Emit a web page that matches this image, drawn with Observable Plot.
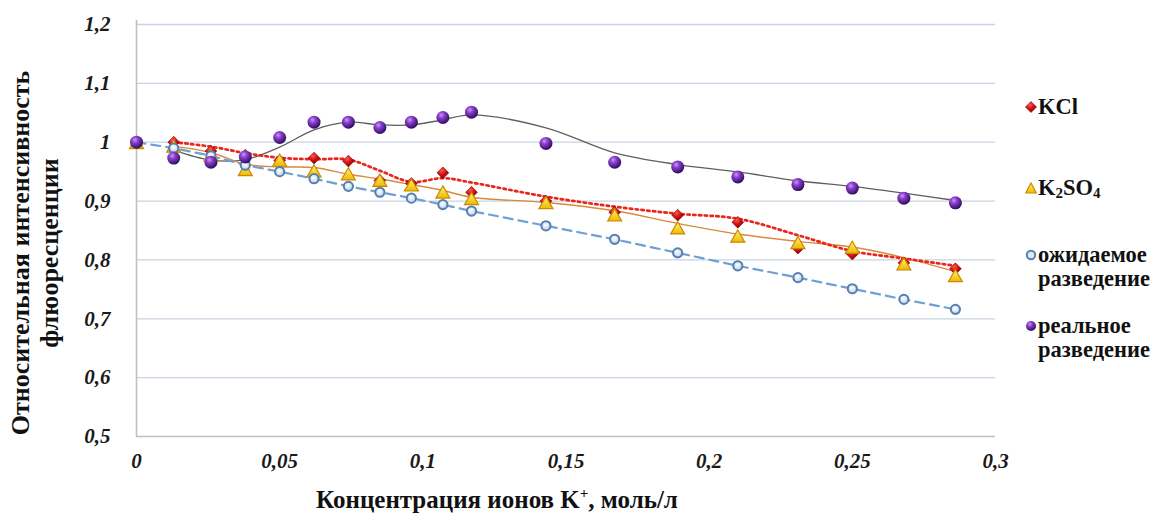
<!DOCTYPE html>
<html>
<head>
<meta charset="utf-8">
<script src="https://cdn.jsdelivr.net/npm/d3@7"></script>
<script src="https://cdn.jsdelivr.net/npm/@observablehq/plot@0.6"></script>
<style>
  body { margin: 0; background: #fff; }
  #wrap { position: relative; width: 1167px; height: 521px; font-family: "Liberation Serif", "Times New Roman", serif; color: #111; overflow: hidden; }
  #wrap svg.chart { position: absolute; left: 0; top: 0; }
  .ytitle { position: absolute; left: -214px; top: 223px; width: 500px; height: 60px; line-height: 29px; text-align: center; font-weight: bold; font-size: 26px; transform: rotate(-90deg); transform-origin: 250px 30px; white-space: nowrap; }
  .xtitle { position: absolute; left: 197px; top: 485px; width: 600px; line-height: 30px; text-align: center; font-weight: bold; font-size: 25px; white-space: nowrap; }
  .xtitle sup { font-size: 15px; vertical-align: 10px; line-height: 0; }
  .leg { position: absolute; font-weight: bold; font-size: 22.5px; line-height: 24px; white-space: nowrap; }
  .leg sub { font-size: 15px; vertical-align: -3px; line-height: 0; }
  .mk { position: absolute; }
</style>
</head>
<body>
<div id="wrap"></div>
<script>
// Concentration of K+ ions, mol/l
const conc = [0, 0.013, 0.026, 0.038, 0.05, 0.062, 0.074, 0.085, 0.096, 0.107, 0.117, 0.143, 0.167, 0.189, 0.21, 0.231, 0.25, 0.268, 0.286];
// Relative fluorescence intensity per series
const kcl      = [1.0, 1.0, 0.985, 0.978, 0.969, 0.973, 0.968, 0.935, 0.93, 0.948, 0.915, 0.9, 0.881, 0.876, 0.864, 0.82, 0.81, 0.795, 0.785];
const k2so4    = [0.996, 0.99, 0.975, 0.95, 0.966, 0.948, 0.943, 0.932, 0.924, 0.912, 0.901, 0.894, 0.873, 0.851, 0.837, 0.826, 0.818, 0.79, 0.77];
const expected = [1.0, 0.99, 0.977, 0.961, 0.95, 0.938, 0.925, 0.915, 0.905, 0.894, 0.883, 0.858, 0.835, 0.812, 0.79, 0.77, 0.751, 0.733, 0.716];
const real     = [1.0, 0.973, 0.966, 0.975, 1.008, 1.034, 1.034, 1.025, 1.034, 1.042, 1.051, 0.998, 0.966, 0.958, 0.941, 0.928, 0.922, 0.905, 0.897];

const seriesNames = ["KCl", "K2SO4", "ожидаемое разведение", "реальное разведение"];
const xTicks = [0, 0.05, 0.1, 0.15, 0.2, 0.25, 0.3];
const yTicks = [0.5, 0.6, 0.7, 0.8, 0.9, 1.0, 1.1, 1.2];

const rows = (vals) => conc.map((x, i) => ({x, y: vals[i]}));
const dKCl = rows(kcl), dK2 = rows(k2so4), dExp = rows(expected), dReal = rows(real);

const fmt = d => String(+d.toFixed(2)).replace(".", ",");
const tickText = {fontSize: 21, fontWeight: "bold", fontStyle: "italic", fill: "#1a1a1a"};
const ma = (opts) => Plot.windowY({k: 2, anchor: "end", strict: true}, {x: "x", y: "y", curve: "catmull-rom", ...opts});

const chart = Plot.plot({
  width: 1167,
  height: 521,
  marginLeft: 136,
  marginRight: 172,
  marginTop: 24,
  marginBottom: 85,
  x: {domain: [0, 0.3]},
  y: {domain: [0.5, 1.2]},
  style: {fontFamily: "'Liberation Serif', 'Times New Roman', serif", background: "transparent", overflow: "visible"},
  marks: [
    Plot.gridY(yTicks.filter(v => v > 0.5), {stroke: "#c6d4e3", strokeOpacity: 1, strokeWidth: 1.3}),
    Plot.ruleY([0.5], {stroke: "#c0c0c0", strokeWidth: 1.6}),
    Plot.ruleX([0], {stroke: "#c0c0c0", strokeWidth: 1.6, y1: 0.5, y2: 1.207}),
    Plot.axisY({ticks: yTicks, tickFormat: fmt, tickSize: 0, tickPadding: 26, label: null, ...tickText}),
    Plot.axisX({ticks: xTicks, tickFormat: fmt, tickSize: 0, tickPadding: 17, label: null, ...tickText}),
    // trend lines (2-point moving averages) and the expected dilution line
    Plot.line(dReal, ma({stroke: "#5f5f5f", strokeWidth: 1.3})),
    Plot.line(dK2, ma({stroke: "#d98a3c", strokeWidth: 1.4})),
    Plot.line(dKCl, ma({stroke: "#e8261e", strokeWidth: 2.7, strokeDasharray: "2.4,3.4"})),
    Plot.line(dExp, {x: "x", y: "y", stroke: "#6f9fd3", strokeWidth: 2.2, strokeDasharray: "9,6"}),
    // markers, in series order
    Plot.dot(dKCl, {x: "x", y: "y", symbol: "diamond2", r: 5.3, fill: "url(#gRed)", stroke: "#7a0000", strokeWidth: 0.6}),
    Plot.dot(dK2, {x: "x", y: "y", symbol: "triangle", r: 5.2, fill: "url(#gYel)", stroke: "#c98a00", strokeWidth: 1.2}),
    Plot.dot(dExp, {x: "x", y: "y", r: 4.6, fill: "url(#gBlue)", stroke: "#557fae", strokeWidth: 2}),
    Plot.dot(dReal, {x: "x", y: "y", r: 6.5, fill: "url(#gPur)", stroke: "none"})
  ]
});
chart.classList.add("chart");

const defs = `
<defs>
  <radialGradient id="gPur" cx="0.38" cy="0.32" r="0.7">
    <stop offset="0" stop-color="#c99af0"/>
    <stop offset="0.35" stop-color="#8a3fd0"/>
    <stop offset="1" stop-color="#2c0a55"/>
  </radialGradient>
  <radialGradient id="gRed" cx="0.4" cy="0.3" r="0.75">
    <stop offset="0" stop-color="#ff5a4a"/>
    <stop offset="0.5" stop-color="#d01010"/>
    <stop offset="1" stop-color="#7a0000"/>
  </radialGradient>
  <linearGradient id="gYel" x1="0" y1="0" x2="0" y2="1">
    <stop offset="0" stop-color="#fff27a"/>
    <stop offset="1" stop-color="#f0b800"/>
  </linearGradient>
  <radialGradient id="gBlue" cx="0.45" cy="0.4" r="0.6">
    <stop offset="0" stop-color="#ffffff"/>
    <stop offset="1" stop-color="#b9d1ea"/>
  </radialGradient>
</defs>`;
d3.select(chart).insert("g", ":first-child").html(defs);

const wrap = document.getElementById("wrap");
wrap.appendChild(chart);

// axis titles
const yt = document.createElement("div");
yt.className = "ytitle";
yt.innerHTML = "Относительная интенсивность<br>флюоресценции";
wrap.appendChild(yt);

const xt = document.createElement("div");
xt.className = "xtitle";
xt.innerHTML = "Концентрация ионов K<sup>+</sup>, моль/л";
wrap.appendChild(xt);

// legend
const legendItems = [
  {html: "KCl", cy: 107, marker: `<polygon points="6,0.5 11.5,6 6,11.5 0.5,6" fill="url(#lgRed)" stroke="#7a0000" stroke-width="0.6"/>`},
  {html: "K<sub>2</sub>SO<sub>4</sub>", cy: 188, marker: `<polygon points="6,1 11.3,11 0.7,11" fill="url(#lgYel)" stroke="#c98a00" stroke-width="1.2"/>`},
  {html: "ожидаемое<br>разведение", cy: 255, marker: `<circle cx="6" cy="6" r="4.2" fill="#dce9f6" stroke="#557fae" stroke-width="2"/>`},
  {html: "реальное<br>разведение", cy: 326, marker: `<circle cx="6" cy="6" r="5" fill="url(#lgPur)"/>`}
];
const lgDefs = `<defs>
  <radialGradient id="lgPur" cx="0.38" cy="0.32" r="0.7"><stop offset="0" stop-color="#c99af0"/><stop offset="0.35" stop-color="#8a3fd0"/><stop offset="1" stop-color="#2c0a55"/></radialGradient>
  <radialGradient id="lgRed" cx="0.4" cy="0.3" r="0.75"><stop offset="0" stop-color="#ff5a4a"/><stop offset="0.5" stop-color="#d01010"/><stop offset="1" stop-color="#7a0000"/></radialGradient>
  <linearGradient id="lgYel" x1="0" y1="0" x2="0" y2="1"><stop offset="0" stop-color="#fff27a"/><stop offset="1" stop-color="#f0b800"/></linearGradient>
</defs>`;
legendItems.forEach((it, i) => {
  const m = document.createElementNS("http://www.w3.org/2000/svg", "svg");
  m.setAttribute("width", 12); m.setAttribute("height", 12);
  m.setAttribute("class", "mk");
  m.style.left = "1025px";
  m.style.top = (it.cy - 6) + "px";
  m.innerHTML = (i === 0 ? lgDefs : "") + it.marker;
  wrap.appendChild(m);
  const t = document.createElement("div");
  t.className = "leg";
  t.style.left = "1038px";
  t.style.top = (it.cy - 12) + "px";
  t.innerHTML = it.html;
  wrap.appendChild(t);
});
</script>
</body>
</html>
